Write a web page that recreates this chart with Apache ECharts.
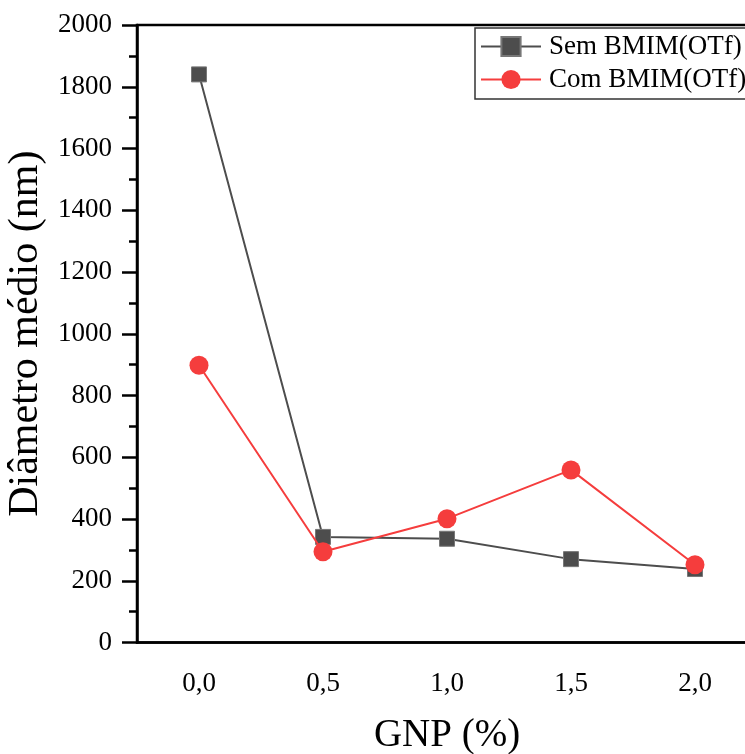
<!DOCTYPE html>
<html>
<head>
<meta charset="utf-8">
<script src="https://cdn.jsdelivr.net/npm/echarts@6/dist/echarts.min.js"></script>
<style>
html,body{margin:0;padding:0;background:#fff;}
#chart{width:745px;height:754px;}
</style>
</head>
<body>
<div id="chart"></div>
<script>
const categories = ['0,0', '0,5', '1,0', '1,5', '2,0'];
const semBMIM = [1840, 342, 336, 270, 238];
const comBMIM = [898, 294, 401, 559, 252];
const yTicks = { min: 0, max: 2000, interval: 200 };

const font = 'Liberation Serif';
const chart = echarts.init(document.getElementById('chart'));
chart.setOption({
  animation: false,
  backgroundColor: '#fff',
  grid: {
    left: 137, top: 25, right: -12, bottom: 111.5,
    outerBoundsMode: 'none',
    containLabel: false,
    show: true, borderColor: '#000', borderWidth: 2.5, backgroundColor: 'transparent'
  },
  legend: {
    orient: 'vertical',
    left: 475, top: 28,
    padding: [5, 60, 6, 5],
    itemWidth: 60, itemHeight: 24, itemGap: 6,
    borderColor: '#333', borderWidth: 1.5, borderRadius: 0,
    textStyle: { fontFamily: font, fontSize: 27, color: '#000', lineHeight: 27, padding: [0, 0, 0, 3] },
    data: ['Sem BMIM(OTf)', 'Com BMIM(OTf)']
  },
  xAxis: {
    type: 'category',
    data: categories,
    boundaryGap: true,
    name: 'GNP (%)',
    nameLocation: 'middle',
    nameGap: 74,
    nameTextStyle: { fontFamily: font, fontSize: 39, color: '#000' },
    axisLine: { lineStyle: { color: '#000', width: 2.5 } },
    axisTick: { alignWithLabel: true, length: 13, lineStyle: { color: '#000', width: 2.5 } },
    axisLabel: { fontFamily: font, fontSize: 27, color: '#000', margin: 28 },
    splitLine: { show: false }
  },
  yAxis: {
    type: 'value',
    min: yTicks.min, max: yTicks.max, interval: yTicks.interval,
    name: 'Diâmetro médio (nm)',
    nameLocation: 'middle',
    nameGap: 88,
    nameTextStyle: { fontFamily: font, fontSize: 42, color: '#000' },
    axisLine: { show: true, lineStyle: { color: '#000', width: 2.5 } },
    axisTick: { show: true, length: 15, lineStyle: { color: '#000', width: 2.5 } },
    minorTick: { show: true, splitNumber: 2, length: 8, lineStyle: { color: '#000', width: 2.5 } },
    axisLabel: { fontFamily: font, fontSize: 27, color: '#000', margin: 25, formatter: v => String(v) },
    splitLine: { show: false }
  },
  series: [
    {
      name: 'Sem BMIM(OTf)',
      type: 'line',
      data: semBMIM,
      symbol: 'rect',
      symbolSize: 15,
      color: '#4d4d4d',
      lineStyle: { color: '#4d4d4d', width: 2 },
      itemStyle: { color: '#4d4d4d', borderColor: '#777', borderWidth: 1 },
      z: 2
    },
    {
      name: 'Com BMIM(OTf)',
      type: 'line',
      data: comBMIM,
      symbol: 'circle',
      symbolSize: 19,
      color: '#f53d3d',
      lineStyle: { color: '#f53d3d', width: 2 },
      itemStyle: { color: '#f53d3d', borderWidth: 0 },
      z: 3
    }
  ]
});
</script>
</body>
</html>
